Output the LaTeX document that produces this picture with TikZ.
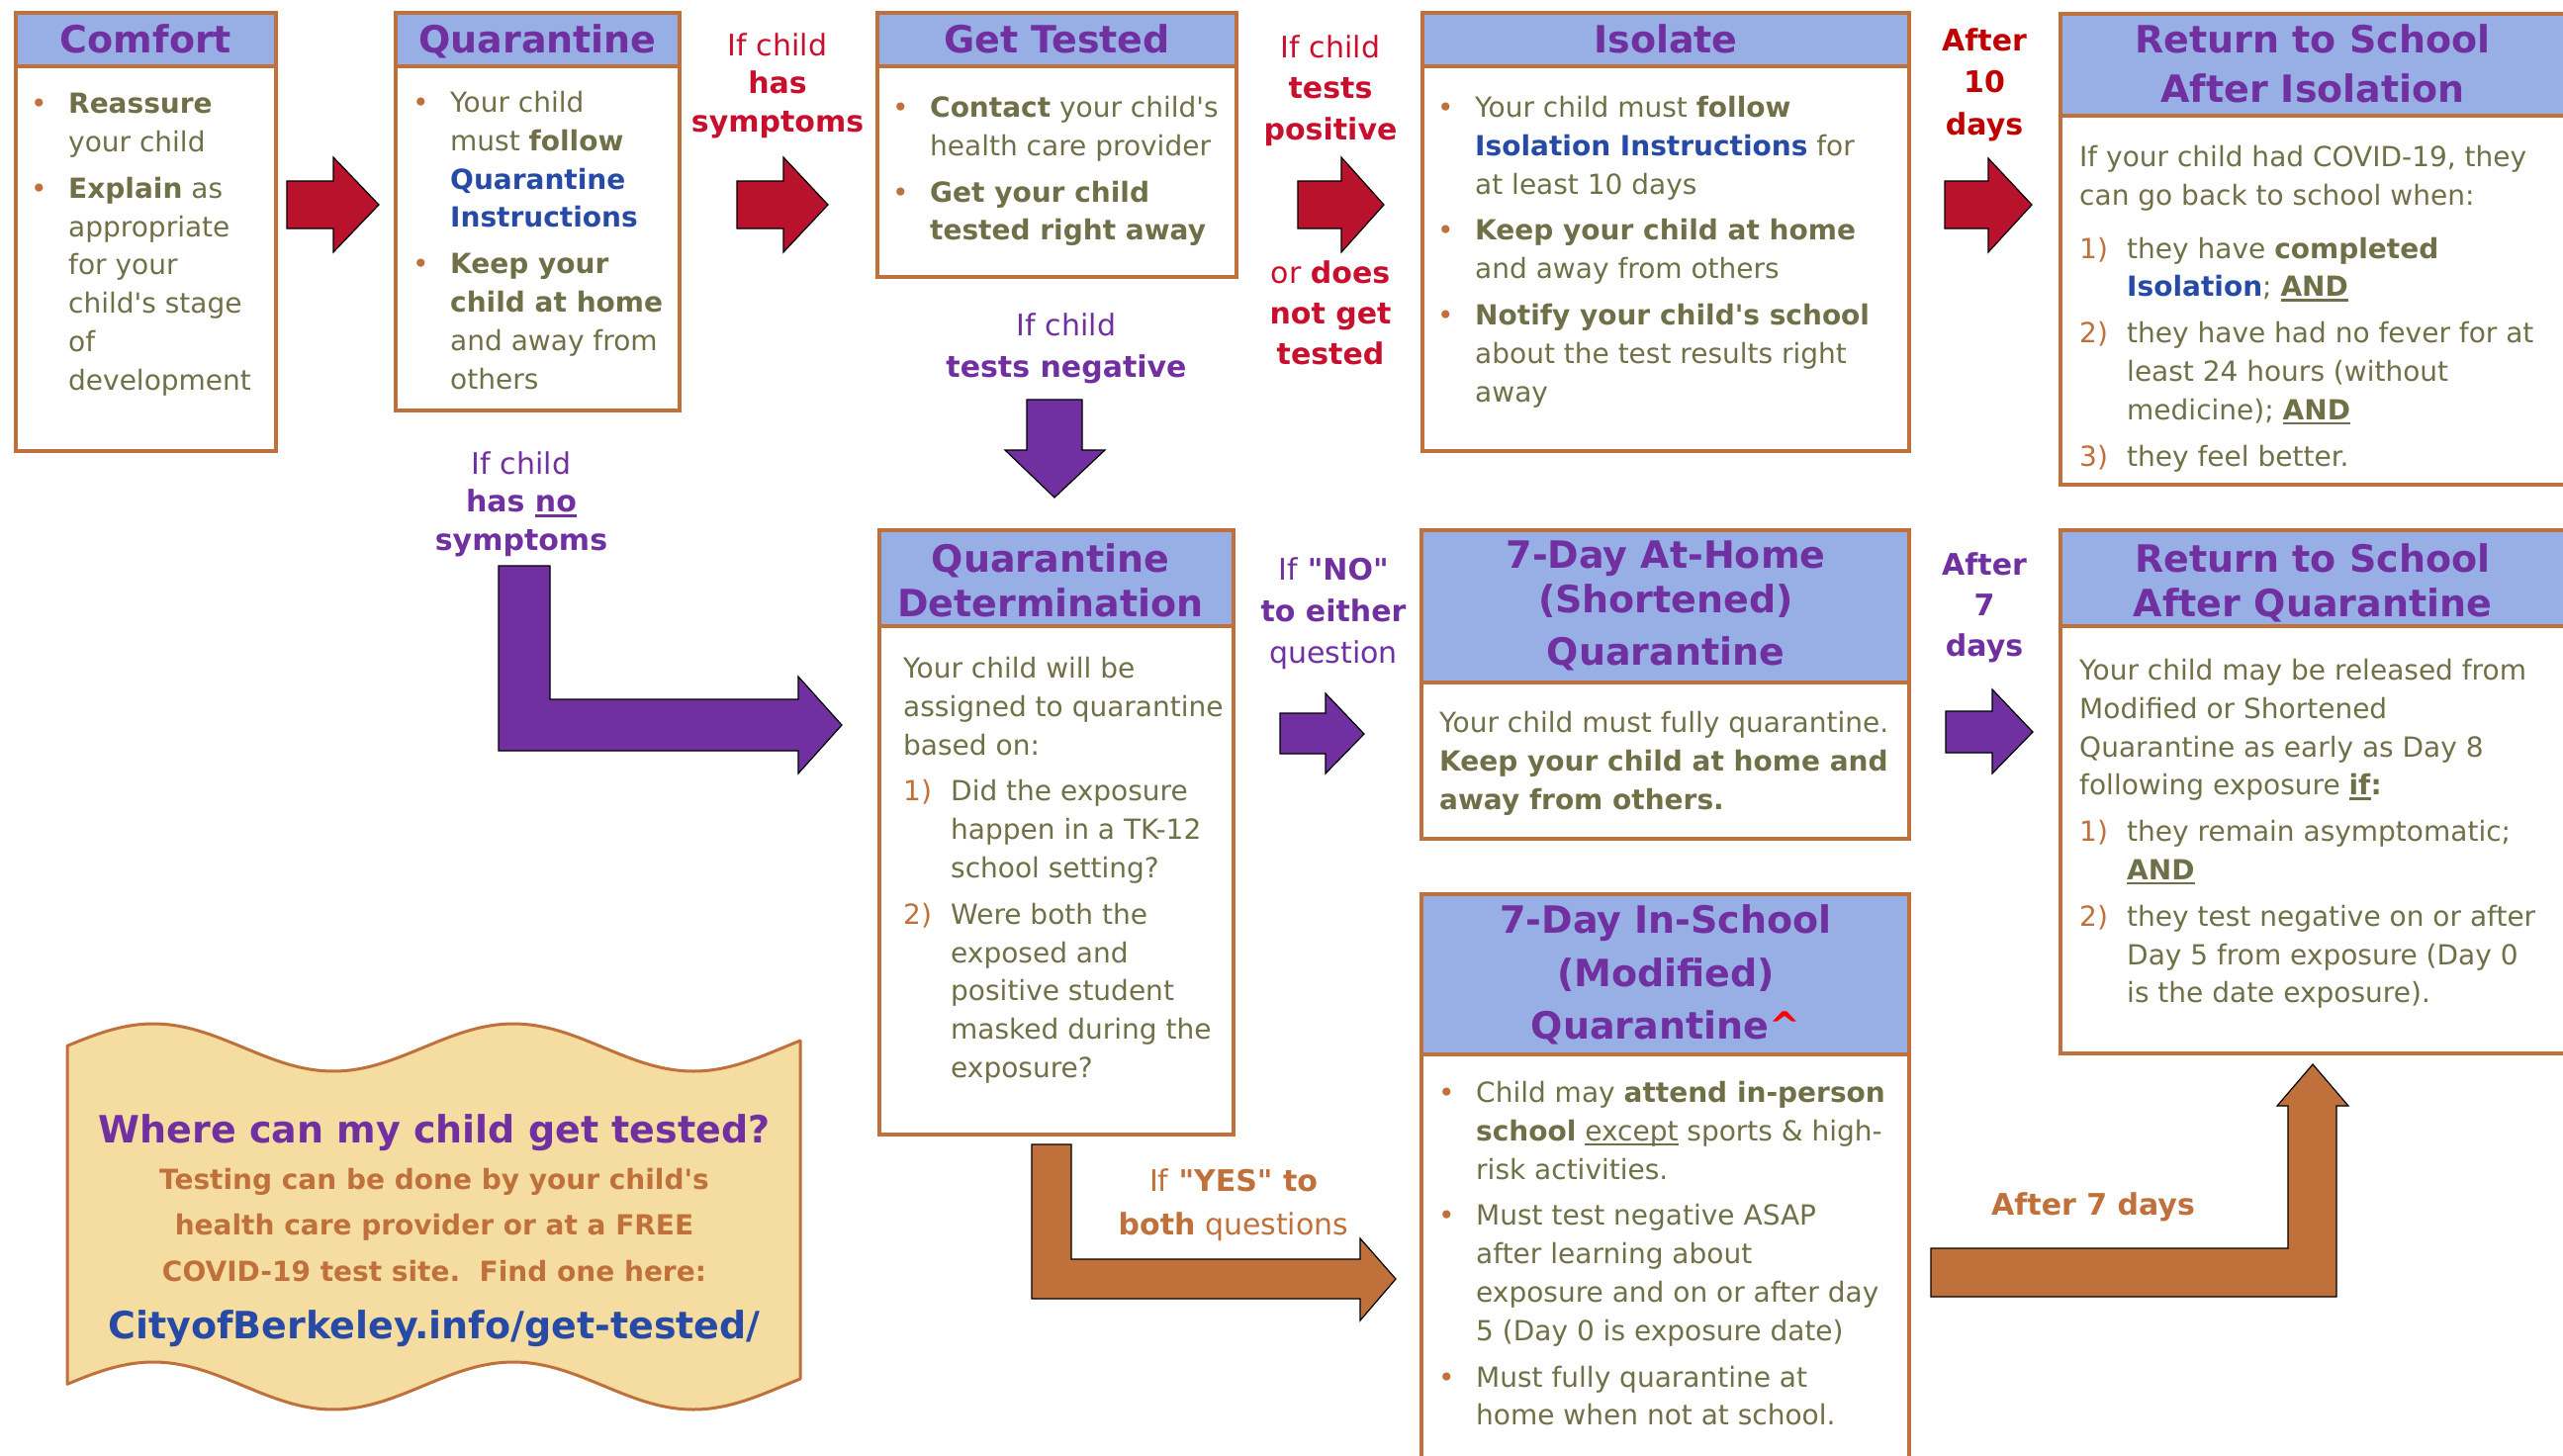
\documentclass[tikz,border=0pt]{standalone}
\usepackage{fontspec}
\newfontfamily\dvs{DejaVu Sans}[NFSSFamily=dvsfam]
\renewcommand{\familydefault}{dvsfam}
\definecolor{boxor}{RGB}{192,112,58}
\definecolor{hdr}{RGB}{151,175,229}
\definecolor{ttlp}{RGB}{112,48,160}
\definecolor{bodyc}{RGB}{112,112,72}
\definecolor{blueT}{RGB}{38,74,165}
\definecolor{redT}{RGB}{200,16,46}
\definecolor{redD}{RGB}{192,0,0}
\definecolor{redA}{RGB}{185,18,44}
\definecolor{purA}{RGB}{112,48,160}
\definecolor{orA}{RGB}{192,112,58}
\definecolor{ban}{RGB}{245,220,160}
\newcommand\bl{\makebox[38pt][l]{\textcolor{boxor}{•}}}
\newcommand\ind{\hspace*{38pt}}
\newcommand\nm[1]{\makebox[48pt][l]{\textcolor{boxor}{#1}}}
\newcommand\nind{\hspace*{48pt}}
\newcommand\ulx[1]{\setbox0\hbox{#1}\rlap{\rule[-5pt]{\wd0}{2.5pt}}\box0\relax}
\newcommand\bb[1]{\textcolor{blueT}{\textbf{#1}}}
\begin{document}
\begin{tikzpicture}[x=1pt,y=-1pt,
  panel/.style={draw=boxor, line width=4pt, fill=white, anchor=north west, inner sep=0pt, outer sep=0pt},
  phead/.style={panel, fill=hdr},
  ttl/.style={font=\dvs\fontsize{38}{45}\selectfont\bfseries, text=ttlp, align=center, anchor=north, inner sep=0pt},
  body/.style={font=\dvs\fontsize{28}{38.8}\selectfont, text=bodyc, align=left, anchor=north west, inner sep=0pt},
  lbl/.style={font=\dvs\fontsize{30}{41}\selectfont, align=center, anchor=north, inner sep=0pt},
  blockarrow/.style={draw=black, line width=1.2pt, line join=miter},
  redarrow/.style={blockarrow, fill=redA},
  purarrow/.style={blockarrow, fill=purA},
  orarrow/.style={blockarrow, fill=orA}]
\clip (0,0) rectangle (2591,1472);
\fill[white] (0,0) rectangle (2591,1472);

% ---------- Comfort ----------
\node[panel, minimum width=263pt, minimum height=443pt] (comfort) at (16,13) {};
\node[phead, minimum width=263pt, minimum height=54pt] (comforthd) at (16,13) {};
\node[ttl] (comfortT) at (147.5,24) {Comfort};
\node[body] (comfortB) at (31,94) {\bl\textbf{Reassure}\\ \ind your child\\[8pt]
 \bl\textbf{Explain} as\\ \ind appropriate\\ \ind for your\\ \ind child's stage\\ \ind of\\ \ind development};

% ---------- Quarantine ----------
\node[panel, minimum width=287pt, minimum height=402pt] (quar) at (400,13) {};
\node[phead, minimum width=287pt, minimum height=54pt] (quarhd) at (400,13) {};
\node[ttl] (quarT) at (543.5,24) {Quarantine};
\node[body] (quarB) at (417,92) {\bl Your child\\ \ind must \textbf{follow}\\ \ind\bb{Quarantine}\\ \ind\bb{Instructions}\\[8pt]
 \bl\textbf{Keep your}\\ \ind\textbf{child at home}\\ \ind and away from\\ \ind others};

% ---------- Get Tested ----------
\node[panel, minimum width=363pt, minimum height=267pt] (gett) at (887,13) {};
\node[phead, minimum width=363pt, minimum height=54pt] (getthd) at (887,13) {};
\node[ttl] (gettT) at (1068.5,24) {Get Tested};
\node[body] (gettB) at (902,97) {\bl\textbf{Contact} your child's\\ \ind health care provider\\[8pt]
 \bl\textbf{Get your child}\\ \ind\textbf{tested right away}};

% ---------- Isolate ----------
\node[panel, minimum width=492pt, minimum height=443pt] (iso) at (1438,13) {};
\node[phead, minimum width=492pt, minimum height=54pt] (isohd) at (1438,13) {};
\node[ttl] (isoT) at (1684,24) {Isolate};
\node[body] (isoB) at (1453,97) {\bl Your child must \textbf{follow}\\ \ind\bb{Isolation Instructions} for\\ \ind at least 10 days\\[8pt]
 \bl\textbf{Keep your child at home}\\ \ind and away from others\\[8pt]
 \bl\textbf{Notify your child's school}\\ \ind about the test results right\\ \ind away};

% ---------- Return to School After Isolation ----------
\node[panel, minimum width=513pt, minimum height=476pt] (retiso) at (2083,14) {};
\node[phead, minimum width=513pt, minimum height=103pt] (retisohd) at (2083,14) {};
\node[ttl] (retisoT) at (2338,24) {Return to School\\[5pt]After Isolation};
\node[body] (retisoB) at (2102,147) {If your child had COVID-19, they\\ can go back to school when:\\[15pt]
 \nm{1)}they have \textbf{completed}\\ \nind\bb{Isolation}; \ulx{\textbf{AND}}\\[8pt]
 \nm{2)}they have had no fever for at\\ \nind least 24 hours (without\\ \nind medicine); \ulx{\textbf{AND}}\\[8pt]
 \nm{3)}they feel better.};

% ---------- Quarantine Determination ----------
\node[panel, minimum width=358pt, minimum height=611pt] (qd) at (889,536) {};
\node[phead, minimum width=358pt, minimum height=97pt] (qdhd) at (889,536) {};
\node[ttl] (qdT) at (1062,549) {Quarantine\\Determination};
\node[body] (qdB) at (913,664) {Your child will be\\ assigned to quarantine\\ based on:\\[8pt]
 \nm{1)}Did the exposure\\ \nind happen in a TK-12\\ \nind school setting?\\[8pt]
 \nm{2)}Were both the\\ \nind exposed and\\ \nind positive student\\ \nind masked during the\\ \nind exposure?};

% ---------- 7-Day At-Home ----------
\node[panel, minimum width=493pt, minimum height=312pt] (home) at (1437,536) {};
\node[phead, minimum width=493pt, minimum height=154pt] (homehd) at (1437,536) {};
\node[ttl] (homeT) at (1684,547) {7-Day At-Home\\(Shortened)\\[8pt]Quarantine};
\node[body] (homeB) at (1455,719) {Your child must fully quarantine.\\ \textbf{Keep your child at home and}\\ \textbf{away from others.}};

% ---------- 7-Day In-School ----------
\node[panel, minimum width=493pt, minimum height=600pt] (school) at (1437,904) {};
\node[phead, minimum width=493pt, minimum height=162pt] (schoolhd) at (1437,904) {};
\node[ttl] (schoolT) at (1684,914) {7-Day In-School\\[9pt](Modified)\\[8pt]Quarantine\textcolor{red}{\textasciicircum}};
\node[body] (schoolB) at (1454,1093) {\bl Child may \textbf{attend in-person}\\ \ind\textbf{school} \ulx{except} sports \& high-\\ \ind risk activities.\\[8pt]
 \bl Must test negative ASAP\\ \ind after learning about\\ \ind exposure and on or after day\\ \ind 5 (Day 0 is exposure date)\\[8pt]
 \bl Must fully quarantine at\\ \ind home when not at school.};

% ---------- Return to School After Quarantine ----------
\node[panel, minimum width=513pt, minimum height=529pt] (retq) at (2083,536) {};
\node[phead, minimum width=513pt, minimum height=97pt] (retqhd) at (2083,536) {};
\node[ttl] (retqT) at (2338,549) {Return to School\\After Quarantine};
\node[body] (retqB) at (2102,666) {Your child may be released from\\ Modified or Shortened\\ Quarantine as early as Day 8\\ following exposure \ulx{\textbf{if}}\textbf{:}\\[8pt]
 \nm{1)}they remain asymptomatic;\\ \nind\ulx{\textbf{AND}}\\[8pt]
 \nm{2)}they test negative on or after\\ \nind Day 5 from exposure (Day 0\\ \nind is the date exposure).};

% ---------- Labels ----------
\node[lbl, text=redT, font=\dvs\fontsize{30}{38.5}\selectfont] (lblsym) at (786,33.5) {If child\\\textbf{has}\\\textbf{symptoms}};
\node[lbl, text=redT, font=\dvs\fontsize{30}{41.5}\selectfont] (lblpos) at (1345,35.5) {If child\\\textbf{tests}\\\textbf{positive}};
\node[lbl, text=redT] (lblnot) at (1345,263.5) {or \textbf{does}\\\textbf{not get}\\\textbf{tested}};
\node[lbl, text=redD, font=\dvs\fontsize{30}{42.5}\selectfont\bfseries] (lbl10) at (2006,28.5) {After\\10\\days};
\node[lbl, text=purA, font=\dvs\fontsize{30}{42}\selectfont] (lblneg) at (1078,316.5) {If child\\\textbf{tests negative}};
\node[lbl, text=purA, font=\dvs\fontsize{30}{38.5}\selectfont] (lblnosym) at (527,456.5) {If child\\\textbf{has \ulx{no}}\\\textbf{symptoms}};
\node[lbl, text=purA, font=\dvs\fontsize{30}{42}\selectfont] (lblno) at (1348,563.5) {If \textbf{"NO"}\\\textbf{to either}\\question};
\node[lbl, text=purA, font=\dvs\fontsize{30}{41}\selectfont\bfseries] (lbl7p) at (2006,558.5) {After\\7\\days};
\node[lbl, text=orA, font=\dvs\fontsize{30}{44}\selectfont] (lblyes) at (1247,1181.5) {If \textbf{"YES" to}\\\textbf{both} questions};
\node[lbl, text=orA, font=\dvs\fontsize{30}{41}\selectfont\bfseries] (lbl7o) at (2116,1205.5) {After 7 days};

% ---------- Block arrows ----------
\draw[redarrow] (290,183) -- (337,183) -- (337,159) -- (383,207) -- (337,255) -- (337,231) -- (290,231) -- cycle;
\draw[redarrow] (745,183) -- (792,183) -- (792,159) -- (837,207) -- (792,255) -- (792,231) -- (745,231) -- cycle;
\draw[redarrow] (1312,183) -- (1356,183) -- (1356,159) -- (1399,207) -- (1356,255) -- (1356,231) -- (1312,231) -- cycle;
\draw[redarrow] (1966,183) -- (2010,183) -- (2010,160) -- (2054,207) -- (2010,255) -- (2010,231) -- (1966,231) -- cycle;
\draw[purarrow] (1038,404) -- (1094,404) -- (1094,455) -- (1117,455) -- (1066,503) -- (1016,455) -- (1038,455) -- cycle;
\draw[purarrow] (1294,721) -- (1340,721) -- (1340,701) -- (1379,742) -- (1340,782) -- (1340,762) -- (1294,762) -- cycle;
\draw[purarrow] (1967,719) -- (2014,719) -- (2014,697) -- (2055,740) -- (2014,782) -- (2014,761) -- (1967,761) -- cycle;
\draw[purarrow] (504,572) -- (556,572) -- (556,707) -- (807,707) -- (807,684) -- (851,733) -- (807,782) -- (807,759) -- (504,759) -- cycle;
\draw[orarrow] (1043,1157) -- (1083,1157) -- (1083,1273) -- (1375,1273) -- (1375,1252) -- (1411,1293) -- (1375,1335) -- (1375,1313) -- (1043,1313) -- cycle;
\draw[orarrow] (1952,1262) -- (2313,1262) -- (2313,1118) -- (2302,1118) -- (2338,1076) -- (2374,1118) -- (2362,1118) -- (2362,1311) -- (1952,1311) -- cycle;

% ---------- Banner ----------
\draw[draw=boxor, line width=3pt, fill=ban, line join=round]
  plot[domain=68:809, samples=90, smooth] (\x, {1059-24*cos(0.98901*(\x-155))})
  -- plot[domain=809:68, samples=90, smooth] (\x, {1401-24*cos(0.98901*(\x-155))}) -- cycle;
\node[anchor=north, inner sep=0pt, font=\dvs\fontsize{38}{45}\selectfont\bfseries, text=ttlp] (banT) at (439,1126) {Where can my child get tested?};
\node[anchor=north, inner sep=0pt, align=center, font=\dvs\fontsize{28}{46.5}\selectfont\bfseries, text=orA] (banB) at (439,1181) {Testing can be done by your child's\\health care provider or at a FREE\\COVID-19 test site.\ \ Find one here:};
\node[anchor=north, inner sep=0pt, font=\dvs\fontsize{38}{45}\selectfont\bfseries, text=blueT] (banU) at (439,1324) {CityofBerkeley.info/get-tested/};
\end{tikzpicture}
\end{document}
